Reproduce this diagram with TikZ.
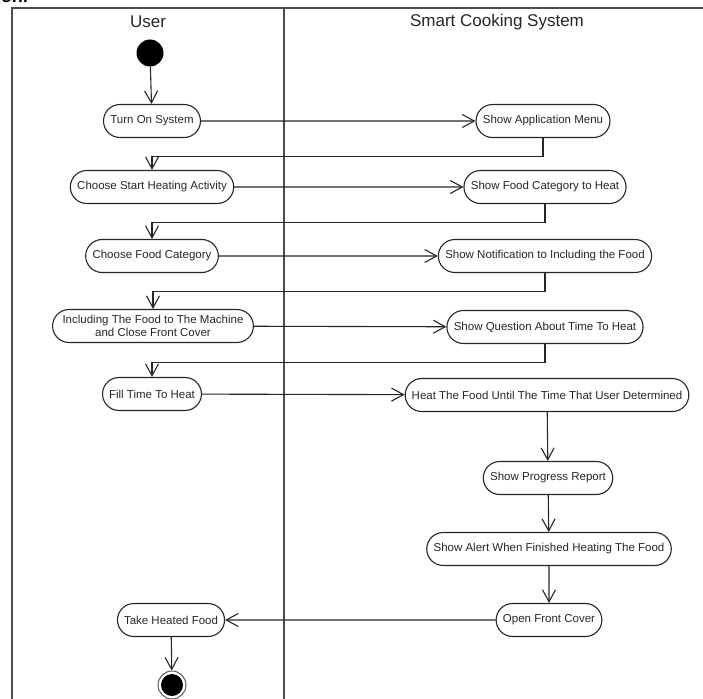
\documentclass[tikz,border=0pt]{standalone}
\usepackage{fontspec}
\setmainfont{Liberation Sans}
\usetikzlibrary{shapes.misc,arrows.meta}
\begin{document}
\begin{tikzpicture}[x=1pt,y=-1pt,
  act/.style={rounded rectangle,draw=black!85,line width=1.1pt,minimum height=33pt,
    inner xsep=6pt,inner ysep=2pt,align=center,text=black!85,
    font=\fontsize{11.5}{13}\selectfont},
  flow/.style={draw=black!85,line width=1.1pt,-{Straight Barb[length=12pt,width=13pt]}},
  lane/.style={draw=black!70,line width=1.6pt},
  title/.style={text=black!85,font=\fontsize{17}{20}\selectfont}]
  \useasboundingbox (0,0) rectangle (703,698);
  \node[anchor=base west,font=\fontsize{18}{20}\selectfont\bfseries\itshape] (cap) at (-2,3) {on.};
  % swimlanes
  \draw[lane] (12,720) |- (720,8);
  \draw[lane] (284,8) -- (284,720);
  \node[title] (user) at (148,22) {User};
  \node[title] (sys) at (497,22) {Smart Cooking System};
  % start and end
  \node[circle,fill=black,minimum size=27pt,inner sep=0pt] (start) at (150,53) {};
  \node[circle,draw=black!65,line width=1pt,minimum size=28pt,inner sep=0pt] (stop) at (172,685) {};
  \fill (stop) circle (11pt);
  % user lane
  \node[act] (turnon) at (152,121) {Turn On System};
  \node[act] (choose) at (152,187) {Choose Start Heating Activity};
  \node[act] (category) at (152,256) {Choose Food Category};
  \node[act] (include) at (153,326) {Including The Food to The Machine\\and Close Front Cover};
  \node[act] (fill) at (152,394) {Fill Time To Heat};
  \node[act] (take) at (171,620) {Take Heated Food};
  % system lane
  \node[act] (menu) at (543,121) {Show Application Menu};
  \node[act] (showcat) at (545,187) {Show Food Category to Heat};
  \node[act] (notify) at (545,256) {Show Notification to Including the Food};
  \node[act] (question) at (545,327) {Show Question About Time To Heat};
  \node[act] (heat) at (547,395) {Heat The Food Until The Time That User Determined};
  \node[act] (progress) at (548,478) {Show Progress Report};
  \node[act] (alert) at (549,549) {Show Alert When Finished Heating The Food};
  \node[act] (open) at (549,620) {Open Front Cover};
  % flows
  \draw[flow] (start) -- (turnon);
  \draw[flow] (turnon) -- (menu);
  \draw[flow] (menu.south) -- ++(0,18) -| (choose.north);
  \draw[flow] (choose) -- (showcat);
  \draw[flow] (showcat.south) -- ++(0,18) -| (category.north);
  \draw[flow] (category) -- (notify);
  \draw[flow] (notify.south) -- ++(0,18) -| (include.north);
  \draw[flow] (include) -- (question);
  \draw[flow] (question.south) -- ++(0,18) -| (fill.north);
  \draw[flow] (fill) -- (heat);
  \draw[flow] (heat) -- (progress);
  \draw[flow] (progress) -- (alert);
  \draw[flow] (alert) -- (open);
  \draw[flow] (open) -- (take);
  \draw[flow] (take) -- (stop);
\end{tikzpicture}
\end{document}
